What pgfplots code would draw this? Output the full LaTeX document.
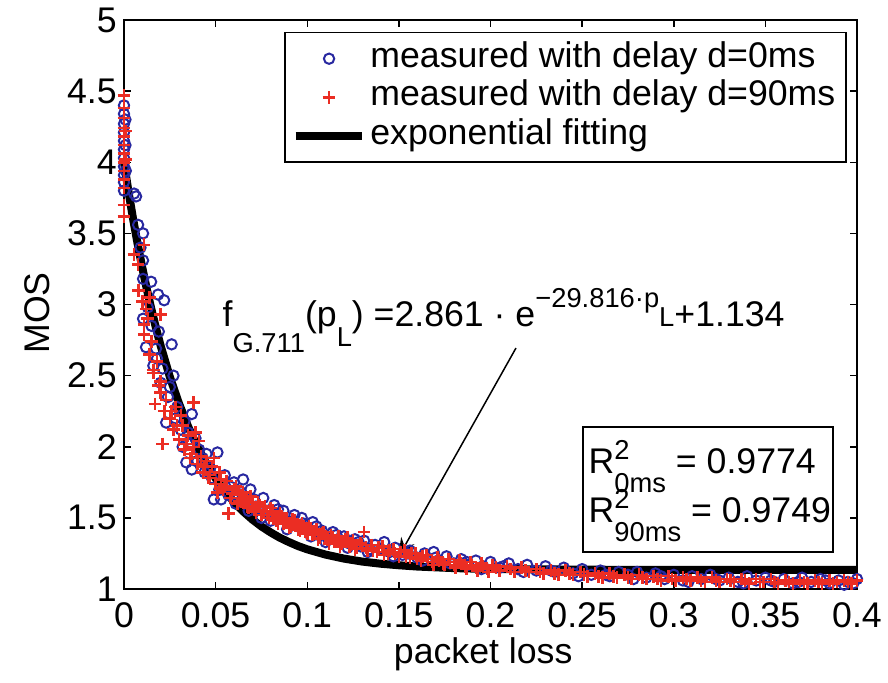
\documentclass[border=0pt]{standalone}
\usepackage{fontspec}
\setmainfont{Liberation Sans}
\usepackage{pgfplots}
\pgfplotsset{compat=1.18}
\usetikzlibrary{arrows.meta}
\definecolor{mblue}{RGB}{40,40,160}
\definecolor{mred}{RGB}{235,45,35}
\newcommand{\F}{\fontsize{10.7}{12.8}\selectfont}
\newcommand{\Fs}{\fontsize{8.2}{9.8}\selectfont}
\begin{document}
\begin{tikzpicture}
\begin{axis}[
  scale only axis,
  width=219.9pt, height=170.7pt,
  xmin=0, xmax=0.4, ymin=1, ymax=5,
  clip=false,
  axis line style={black, line width=0.45pt},
  major tick style={black, line width=0.45pt},
  major tick length=2.1pt,
  xtick={0,0.05,0.1,0.15,0.2,0.25,0.3,0.35,0.4},
  xticklabels={0,0.05,0.1,0.15,0.2,0.25,0.3,0.35,0.4},
  ytick={1,1.5,2,2.5,3,3.5,4,4.5,5},
  yticklabels={1,1.5,2,2.5,3,3.5,4,4.5,5},
  tick label style={font=\F},
  xticklabel style={inner sep=1pt, yshift=-3pt},
  yticklabel style={inner sep=1pt, xshift=-1pt},
  xlabel={packet loss}, ylabel={MOS},
  label style={font=\F},
  xlabel style={at={(axis description cs:0.49,-0.115)}, anchor=center},
  ylabel style={at={(axis description cs:-0.118,0.485)}, anchor=center},
  legend style={draw=black, line width=0.45pt, font=\F,
    at={(axis description cs:0.986,0.979)}, anchor=north east,
    inner xsep=2pt, inner ysep=2pt, row sep=0pt,
    nodes={inner xsep=1.2pt, inner ysep=0.8pt, text depth=0.25em, text height=0.75em}},
  legend cell align=left,
  legend image code/.code={\draw[mark repeat=2, mark phase=2, #1]
    plot coordinates {(0pt,0pt) (10pt,0pt) (20pt,0pt)};},
]
% ---- measured, d = 0 ms
\addplot[only marks, mark=o, mark size=1.55pt, mblue, line width=0.6pt] table {
x y
0 4.40
0 4.34
0 4.27
0 4.21
0 4.15
0 4.09
0 4.03
0 3.97
0 3.91
0 3.86
0 3.80
0.0008 4.30
0.0008 4.12
0.001 3.94
0.0055 3.78
0.0066 3.76
0.0077 3.56
0.0104 3.50
0.0104 3.31
0.0090 3.40
0.0104 3.18
0.0148 3.16
0.0186 3.07
0.0219 3.03
0.0104 2.90
0.0120 2.70
0.0130 2.98
0.0175 2.69
0.0190 2.81
0.0260 2.72
0.0160 2.57
0.0150 2.85
0.0270 2.50
0.0230 2.17
0.0200 2.45
0.0240 2.35
0.0180 2.62
0.0210 2.55
0.0250 2.42
0.0290 2.28
0.0310 2.12
0.0330 2.18
0.0370 2.23
0.0340 1.89
0.0370 1.84
0.0360 2.02
0.0390 2.06
0.0410 1.98
0.0430 1.92
0.0450 1.95
0.0470 1.85
0.0510 1.96
0.0490 1.63
0.0530 1.63
0.0550 1.80
0.0580 1.72
0.0600 1.75
0.0620 1.66
0.0650 1.77
0.0690 1.70
0.0670 1.60
0.0710 1.63
0.0740 1.56
0.0760 1.64
0.0780 1.55
0.0820 1.59
0.0850 1.50
0.0870 1.55
0.0900 1.47
0.0930 1.52
0.0950 1.44
0.0980 1.46
0.1000 1.42
0.1030 1.47
0.1060 1.38
0.1080 1.41
0.1110 1.36
0.1140 1.40
0.1170 1.34
0.1200 1.37
0.1230 1.32
0.1260 1.35
0.1290 1.30
0.1310 1.34
0.1340 1.28
0.1370 1.31
0.1420 1.33
0.1450 1.26
0.1480 1.29
0.1520 1.24
0.1560 1.27
0.1600 1.22
0.1640 1.25
0.1690 1.26
0.1720 1.20
0.1760 1.23
0.1800 1.18
0.1840 1.21
0.1880 1.17
0.1920 1.20
0.1960 1.16
0.2000 1.19
0.2050 1.15
0.2100 1.18
0.2150 1.14
0.2200 1.17
0.2250 1.13
0.2300 1.16
0.2350 1.12
0.2400 1.15
0.2450 1.11
0.2500 1.14
0.2550 1.10
0.2600 1.13
0.2650 1.09
0.2700 1.12
0.2750 1.10
0.2800 1.12
0.2850 1.08
0.2900 1.11
0.2950 1.07
0.3000 1.10
0.3050 1.06
0.3100 1.09
0.3150 1.07
0.3200 1.10
0.3250 1.06
0.3300 1.08
0.3350 1.05
0.3400 1.09
0.3450 1.06
0.3500 1.08
0.3550 1.05
0.3600 1.07
0.3650 1.04
0.3700 1.08
0.3750 1.05
0.3800 1.07
0.3850 1.04
0.3900 1.06
0.3950 1.05
0.4000 1.07
0.3980 1.04
0.0280 2.20
0.0320 2.00
0.0350 2.10
0.0400 1.90
0.0440 1.82
0.0480 1.78
0.0520 1.70
0.0570 1.66
0.0610 1.60
0.0640 1.68
0.0680 1.55
0.0720 1.58
0.0750 1.50
0.0800 1.48
0.0840 1.56
0.0890 1.42
0.0920 1.45
0.0970 1.50
0.1020 1.37
0.1050 1.44
0.1100 1.33
0.1160 1.38
0.1220 1.29
0.1280 1.33
0.1330 1.26
0.1400 1.28
0.1470 1.23
0.1550 1.25
0.1630 1.20
0.1700 1.22
0.1780 1.18
0.1870 1.19
0.1950 1.14
0.2070 1.16
0.2180 1.12
0.2330 1.13
0.2480 1.09
0.2630 1.10
0.2780 1.07
0.2930 1.09
0.3080 1.05
0.3230 1.07
0.3380 1.04
0.3530 1.06
0.3680 1.05
0.3830 1.06
0.3930 1.03
};
\addlegendentry{measured with delay d=0ms}
% ---- measured, d = 90 ms
\addplot[only marks, mark=+, mark size=1.9pt, mred, line width=0.75pt] table {
x y
0 4.47
0 4.38
0 4.31
0 4.24
0 4.18
0 4.12
0 4.06
0 4.00
0 3.94
0 3.88
0 3.82
0 3.70
0 3.62
0.0008 4.22
0.0008 4.02
0.0110 3.42
0.0055 3.35
0.0077 3.28
0.0080 3.10
0.0100 3.02
0.0120 2.97
0.0140 3.05
0.0200 2.93
0.0110 2.86
0.0110 2.79
0.0130 2.90
0.0160 2.54
0.0190 2.43
0.0170 2.30
0.0160 2.52
0.0200 2.46
0.0200 2.38
0.0140 2.65
0.0150 2.74
0.0180 2.60
0.0210 2.02
0.0380 2.31
0.0220 2.25
0.0250 2.20
0.0270 2.12
0.0280 2.28
0.0300 2.05
0.0320 2.15
0.0330 1.98
0.0350 2.08
0.0360 1.92
0.0380 2.00
0.0400 1.88
0.0410 2.04
0.0430 1.82
0.0450 1.90
0.0460 1.78
0.0480 1.86
0.0500 1.74
0.0520 1.82
0.0540 1.70
0.0570 1.53
0.0560 1.76
0.0590 1.67
0.0610 1.72
0.0630 1.62
0.0650 1.68
0.0670 1.58
0.0690 1.65
0.0710 1.56
0.0730 1.61
0.0750 1.52
0.0770 1.58
0.0790 1.50
0.0810 1.55
0.0830 1.48
0.0850 1.53
0.0870 1.46
0.0890 1.50
0.0910 1.44
0.0930 1.48
0.0950 1.42
0.0970 1.46
0.0990 1.40
0.1010 1.44
0.1030 1.38
0.1050 1.42
0.1070 1.36
0.1090 1.40
0.1110 1.35
0.1130 1.38
0.1150 1.33
0.1170 1.37
0.1190 1.32
0.1210 1.35
0.1230 1.30
0.1250 1.34
0.1270 1.29
0.1310 1.40
0.1290 1.32
0.1330 1.27
0.1350 1.31
0.1380 1.26
0.1410 1.30
0.1440 1.25
0.1470 1.28
0.1500 1.23
0.1530 1.27
0.1560 1.22
0.1590 1.25
0.1620 1.20
0.1650 1.24
0.1680 1.19
0.1710 1.22
0.1740 1.18
0.1770 1.21
0.1800 1.17
0.1830 1.20
0.1860 1.16
0.1890 1.19
0.1920 1.15
0.1950 1.18
0.1980 1.14
0.2010 1.17
0.2050 1.13
0.2090 1.16
0.2130 1.12
0.2170 1.15
0.2210 1.12
0.2250 1.14
0.2290 1.11
0.2330 1.13
0.2370 1.10
0.2410 1.13
0.2450 1.10
0.2490 1.12
0.2530 1.09
0.2570 1.11
0.2610 1.08
0.2650 1.11
0.2690 1.08
0.2730 1.10
0.2770 1.07
0.2810 1.10
0.2850 1.07
0.2890 1.09
0.2930 1.06
0.2970 1.09
0.3010 1.06
0.3050 1.08
0.3090 1.06
0.3130 1.08
0.3170 1.05
0.3210 1.08
0.3250 1.05
0.3290 1.07
0.3330 1.05
0.3370 1.07
0.3410 1.04
0.3450 1.07
0.3490 1.05
0.3530 1.07
0.3570 1.04
0.3610 1.06
0.3650 1.04
0.3690 1.06
0.3730 1.04
0.3770 1.06
0.3810 1.04
0.3850 1.06
0.3890 1.05
0.3930 1.06
0.3970 1.04
0.4000 1.06
0.0230 2.33
0.0260 2.25
0.0290 2.15
0.0310 2.22
0.0340 2.02
0.0370 1.95
0.0390 2.10
0.0420 1.93
0.0440 1.86
0.0470 1.80
0.0490 1.92
0.0510 1.68
0.0530 1.77
0.0550 1.72
0.0580 1.64
0.0600 1.70
0.0620 1.60
0.0640 1.66
0.0660 1.63
0.0680 1.57
0.0700 1.61
0.0720 1.54
0.0740 1.59
0.0760 1.55
0.0780 1.52
0.0800 1.57
0.0820 1.50
0.0840 1.46
0.0860 1.51
0.0880 1.47
0.0900 1.43
0.0920 1.49
0.0940 1.45
0.0960 1.41
0.0980 1.44
0.1000 1.39
0.1020 1.43
0.1040 1.40
0.1060 1.35
0.1080 1.39
0.1100 1.37
0.1120 1.32
0.1140 1.36
0.1160 1.34
0.1180 1.30
0.1200 1.33
0.1220 1.36
0.1240 1.31
0.1260 1.28
0.1300 1.31
0.1320 1.29
0.1360 1.27
0.1390 1.29
0.1420 1.24
0.1450 1.27
0.1480 1.25
0.1510 1.26
0.1540 1.23
0.1570 1.25
0.1600 1.21
0.1630 1.23
0.1660 1.21
0.1690 1.17
0.1720 1.20
0.1750 1.17
0.1780 1.19
0.1810 1.15
0.1840 1.18
0.1870 1.14
0.1900 1.17
0.1930 1.13
0.1960 1.16
0.1990 1.12
0.2030 1.15
0.2110 1.14
0.2190 1.13
0.2270 1.12
0.2350 1.11
0.2430 1.11
0.2510 1.10
0.2590 1.09
0.2670 1.09
0.2750 1.08
0.2830 1.08
0.2910 1.07
0.2990 1.07
0.3070 1.07
0.3150 1.06
0.3230 1.06
0.3310 1.06
0.3390 1.06
0.3470 1.05
0.3550 1.05
0.3630 1.05
0.3710 1.05
0.3790 1.05
0.3870 1.04
0.3950 1.05
};
\addlegendentry{measured with delay d=90ms}
% ---- exponential fit
\addplot[black, line width=2.4pt, line join=round, no marks] table {
x y
0 3.995
0.0025 3.790
0.005 3.599
0.0075 3.422
0.01 3.258
0.0125 3.105
0.015 2.964
0.0175 2.832
0.02 2.710
0.025 2.492
0.03 2.304
0.035 2.142
0.04 2.002
0.045 1.882
0.05 1.778
0.055 1.689
0.06 1.612
0.065 1.546
0.07 1.489
0.075 1.440
0.08 1.398
0.085 1.361
0.09 1.330
0.095 1.302
0.10 1.279
0.11 1.242
0.12 1.214
0.13 1.193
0.14 1.178
0.15 1.167
0.16 1.158
0.18 1.147
0.20 1.141
0.25 1.136
0.30 1.134
0.40 1.134
};
\addlegendentry{exponential fitting}
% ---- annotations
\node[anchor=base west, font=\F, inner sep=0pt] at (axis cs:0.0535,2.849)
  {f\raisebox{-7.8pt}{\Fs G.711}(p\raisebox{-6pt}{\Fs L}) =2.861 · e\raisebox{5.4pt}{\Fs −29.816·p\raisebox{-5.4pt}{\Fs L}}+1.134};
\draw[black, line width=0.45pt, -{Stealth[length=6pt, width=4.5pt]}]
  (axis cs:0.2139,2.694) -- (axis cs:0.1495,1.218);
\draw[black, line width=0.45pt, fill=white]
  (axis cs:0.2505,2.139) rectangle (axis cs:0.3869,1.260);
\node[anchor=base west, font=\F, inner sep=0pt] at (axis cs:0.2532,1.815)
  {R\rlap{\raisebox{4pt}{\Fs 2}}\raisebox{-5.7pt}{\Fs 0ms} = 0.9774};
\node[anchor=base west, font=\F, inner sep=0pt] at (axis cs:0.2532,1.471)
  {R\rlap{\raisebox{4pt}{\Fs 2}}\raisebox{-5.7pt}{\Fs 90ms} = 0.9749};
% page frame with the reference's proportions
\path (rel axis cs:0,0) ++(-37.2pt,-25.5pt) rectangle ++(266.4pt,202.2pt);
\end{axis}
\end{tikzpicture}
\end{document}
